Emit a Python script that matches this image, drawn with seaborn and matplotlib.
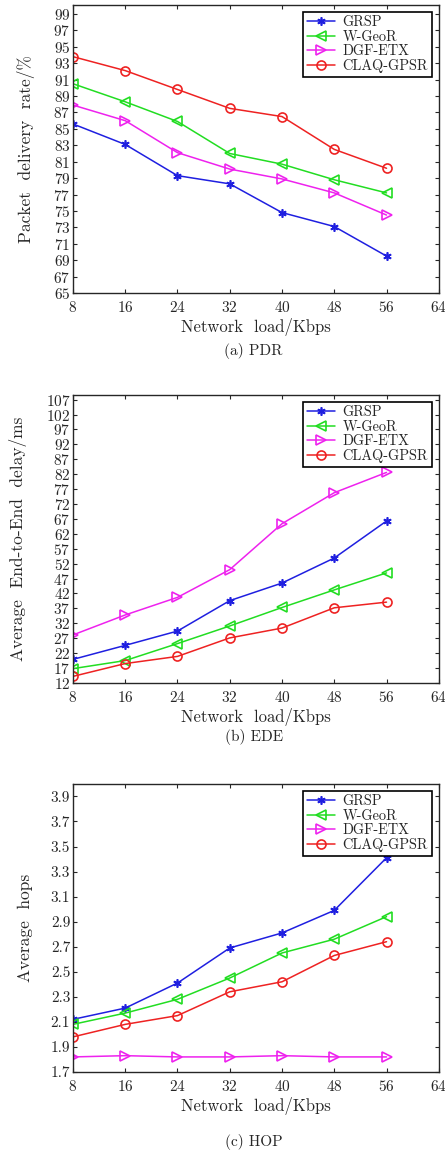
import pandas as pd
import seaborn as sns
import matplotlib.pyplot as plt

# data
load = [8, 16, 24, 32, 40, 48, 56]
protocols = ['GRSP', 'W-GeoR', 'DGF-ETX', 'CLAQ-GPSR']

pdr_grsp = [85.6, 83.1, 79.3, 78.3, 74.8, 73.1, 69.5]
pdr_wgeor = [90.5, 88.3, 85.9, 82.0, 80.7, 78.8, 77.2]
pdr_dgf = [87.9, 86.0, 82.1, 80.1, 78.9, 77.2, 74.5]
pdr_claq = [93.8, 92.1, 89.8, 87.5, 86.5, 82.5, 80.2]

ede_grsp = [19.9, 24.6, 29.4, 39.6, 45.5, 53.9, 66.3]
ede_wgeor = [16.8, 19.5, 25.2, 31.1, 37.3, 43.2, 48.9]
ede_dgf = [28.1, 34.8, 40.7, 50.0, 65.4, 75.8, 82.6]
ede_claq = [14.2, 18.5, 20.9, 27.1, 30.4, 37.2, 39.1]

hop_grsp = [2.12, 2.21, 2.41, 2.69, 2.81, 2.99, 3.41]
hop_wgeor = [2.08, 2.17, 2.28, 2.45, 2.65, 2.76, 2.94]
hop_dgf = [1.82, 1.83, 1.82, 1.82, 1.83, 1.82, 1.82]
hop_claq = [1.98, 2.08, 2.15, 2.34, 2.42, 2.63, 2.74]

colors = {'GRSP': '#1f1fe0', 'W-GeoR': '#22dd22', 'DGF-ETX': '#ee22ee', 'CLAQ-GPSR': '#ee2222'}
markers = {'GRSP': (6, 2, 0), 'W-GeoR': '<', 'DGF-ETX': '>', 'CLAQ-GPSR': 'o'}

sns.set_style('ticks')
plt.rcParams['font.family'] = ['cmr10', 'DejaVu Serif']
plt.rcParams['axes.formatter.use_mathtext'] = True
plt.rcParams['xtick.direction'] = 'in'
plt.rcParams['ytick.direction'] = 'in'

fig = plt.figure(figsize=(4.45, 11.54), dpi=100)

panels = [
    ([pdr_grsp, pdr_wgeor, pdr_dgf, pdr_claq], 'Packet  delivery  rate/%', (65, 100.1), list(range(65, 100, 2)), '(a) PDR', 0.7461, 351),
    ([ede_grsp, ede_wgeor, ede_dgf, ede_claq], 'Average  End-to-End  delay/ms', (12, 108.6), list(range(12, 108, 5)), '(b) EDE', 0.4082, 737),
    ([hop_grsp, hop_wgeor, hop_dgf, hop_claq], 'Average  hops', (1.7, 4.0), [1.7 + 0.2 * i for i in range(12)], '(c) HOP', 0.0711, 1142),
]

for series, ylabel, ylim, yticks, caption, bottom, cap_y in panels:
    ax = fig.add_axes([0.164, bottom, 0.822, 0.2496])
    rows = []
    for name, vals in zip(protocols, series):
        for x, v in zip(load, vals):
            rows.append({'load': x, 'value': v, 'protocol': name})
    df = pd.DataFrame(rows)
    for name in protocols:
        sub = df[df['protocol'] == name]
        face = colors[name] if name == 'GRSP' else 'none'
        size = 6 if name == 'GRSP' else 6.5
        sns.lineplot(data=sub, x='load', y='value', ax=ax, color=colors[name],
                     marker=markers[name], markersize=size, markerfacecolor=face,
                     markeredgecolor=colors[name], markeredgewidth=1.2,
                     linewidth=1.1, label=name)
    ax.set_xlim(8, 64)
    ax.set_xticks([8, 16, 24, 32, 40, 48, 56, 64])
    ax.set_ylim(*ylim)
    ax.set_yticks(yticks)
    if ylabel.startswith('Average  hops'):
        ax.set_yticklabels([f'{t:.1f}' for t in yticks])
    ax.tick_params(top=True, right=True, labelsize=11, length=3)
    ax.tick_params(axis='x', pad=5)
    ax.tick_params(axis='y', pad=2)
    for s in ax.spines.values():
        s.set_linewidth(1.0)
    ax.set_xlabel('Network  load/Kbps', fontsize=12, labelpad=2)
    ax.set_ylabel(ylabel, fontsize=12.5, labelpad=13)
    leg = ax.legend(loc='upper right', fontsize=10.3, fancybox=False, edgecolor='black',
                    framealpha=1, borderaxespad=0.5, handlelength=2.0,
                    labelspacing=0.05, borderpad=0.25, handletextpad=0.5)
    leg.get_frame().set_linewidth(1.2)
    fig.text(0.57, 1 - cap_y / 1154, caption, ha='center', va='center', fontsize=11)

fig.savefig('out.png', dpi=100)
